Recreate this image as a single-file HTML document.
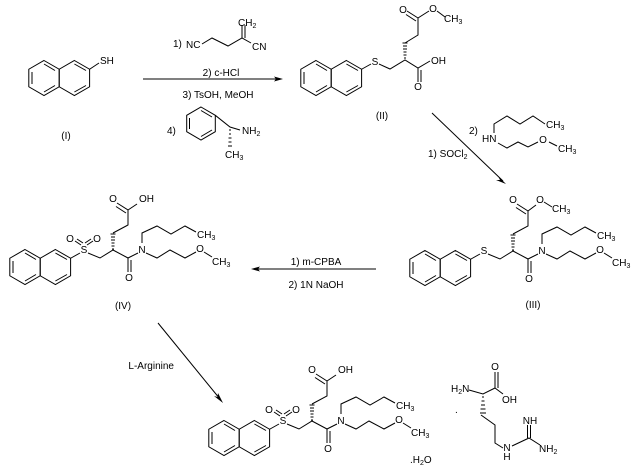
<!DOCTYPE html>
<html><head><meta charset="utf-8"><style>
html,body{margin:0;padding:0;background:#fff;}
svg{display:block;}
text{font-family:"Liberation Sans",sans-serif;font-size:10px;fill:#000;}
.s{font-size:7px;}
</style></head><body>
<svg width="635" height="471" viewBox="0 0 635 471" xmlns="http://www.w3.org/2000/svg">
<defs>
<g id="nap" fill="none" stroke="#000" stroke-width="1">
<polygon points="0,-17.5 15.2,-8.75 15.2,8.75 0,17.5 -15.2,8.75 -15.2,-8.75"/>
<polygon points="30.4,-17.5 45.6,-8.75 45.6,8.75 30.4,17.5 15.2,8.75 15.2,-8.75"/>
<line x1="-12" y1="-6" x2="-12" y2="6"/>
<line x1="0" y1="-14" x2="11" y2="-7.5"/>
<line x1="0" y1="14" x2="11" y2="7.5"/>
<line x1="30.4" y1="-14" x2="42" y2="-7.5"/>
<line x1="30.4" y1="14" x2="42" y2="7.5"/>
</g>
<g id="hash" stroke="#000" stroke-width="1">
<line x1="112" y1="249" x2="114" y2="249"/>
<line x1="111.5" y1="246" x2="114.5" y2="246"/>
<line x1="111.5" y1="243" x2="114.5" y2="243"/>
<line x1="111" y1="240" x2="115" y2="240"/>
<line x1="111" y1="237" x2="115" y2="237"/>
<line x1="110.5" y1="234" x2="115.5" y2="234"/>
</g>
<g id="core">
<use href="#nap" x="25" y="267"/>
<g fill="none" stroke="#000" stroke-width="1">
<polyline points="70.6,258.25 80,253"/>
<polyline points="88,253 100,258 113,250 128,258 138,253"/>
<line x1="128" y1="258" x2="128" y2="272"/>
<line x1="131" y1="260" x2="131" y2="272"/>
<polyline points="142,243 142,233 157,226 171,234 185,226 196,232"/>
<polyline points="146,253 157,258 170,250 185,258 196,252"/>
<polyline points="204,252 212,257"/>
<polyline points="113,233 128,225 128,210"/>
<line x1="128" y1="210" x2="117" y2="203"/>
<line x1="126" y1="213" x2="116" y2="206.5"/>
</g>
<use href="#hash"/>
<text x="129" y="281" text-anchor="middle">O</text>
<text x="142" y="253" text-anchor="middle">N</text>
<text x="197" y="238">CH<tspan class="s" dy="2">3</tspan></text>
<text x="200" y="252" text-anchor="middle">O</text>
<text x="212" y="265">CH<tspan class="s" dy="2">3</tspan></text>
<text x="113" y="202" text-anchor="middle">O</text>
</g>
<g id="acid">
<line x1="128" y1="210" x2="137" y2="204" stroke="#000"/>
<text x="139" y="202">OH</text>
</g>
<g id="so2" fill="none" stroke="#000" stroke-width="1">
<line x1="81" y1="245" x2="75" y2="241"/>
<line x1="83" y1="243" x2="77" y2="239"/>
<line x1="87" y1="245" x2="93" y2="241"/>
<line x1="85" y1="243" x2="91" y2="239"/>
</g>
</defs>

<!-- (I) -->
<use href="#nap" x="44" y="78"/>
<line x1="89.6" y1="69.25" x2="99" y2="63" stroke="#000"/>
<text x="100" y="64">SH</text>
<text x="66" y="139" text-anchor="middle">(I)</text>

<!-- arrow 1 -->
<line x1="143" y1="79" x2="280" y2="79" stroke="#000"/>
<polygon points="283,79 274,76.5 276,79 274,81.5" fill="#000"/>
<text x="173" y="47">1)</text>
<text x="186" y="48">NC</text>
<g fill="none" stroke="#000">
<polyline points="202,44 212,38 228,46 242,38 251,43"/>
<line x1="242" y1="38" x2="242" y2="25"/>
<line x1="245" y1="38" x2="245" y2="25"/>
</g>
<text x="238" y="26">CH<tspan class="s" dy="2">2</tspan></text>
<text x="252" y="50">CN</text>
<text x="221" y="76" text-anchor="middle">2) c-HCl</text>
<text x="218" y="98" text-anchor="middle">3) TsOH, MeOH</text>
<text x="167" y="134">4)</text>
<g fill="none" stroke="#000">
<polygon points="201,107 215.3,115.3 215.3,131.7 201,140 186.7,131.7 186.7,115.3"/>
<line x1="189.5" y1="118" x2="189.5" y2="129"/>
<line x1="201" y1="110.5" x2="212" y2="117"/>
<line x1="201" y1="136.5" x2="212" y2="130"/>
<polyline points="215.3,115.3 230,127 240,130"/>
</g>
<g stroke="#000"><line x1="229" y1="130" x2="231" y2="130"/><line x1="229" y1="134" x2="231" y2="134"/><line x1="228.5" y1="138" x2="231.5" y2="138"/><line x1="228.5" y1="142" x2="231.5" y2="142"/><line x1="228" y1="146" x2="232" y2="146"/></g>
<text x="242" y="134">NH<tspan class="s" dy="2">2</tspan></text>
<text x="225" y="158">CH<tspan class="s" dy="2">3</tspan></text>

<!-- (II) -->
<use href="#nap" x="316" y="78"/>
<g fill="none" stroke="#000">
<line x1="361.6" y1="69.25" x2="371" y2="64"/>
<polyline points="379,64 390,69 405,60 418,68 430,61"/>
<line x1="418" y1="68" x2="418" y2="82"/>
<line x1="421" y1="70" x2="421" y2="82"/>
<polyline points="405,43 418,35 418,18 429,11"/>
<polyline points="437,11 445,17"/>
<line x1="418" y1="18" x2="407" y2="11"/>
<line x1="416" y1="21" x2="406" y2="14.5"/>
</g>
<g stroke="#000"><line x1="404" y1="58" x2="406" y2="58"/><line x1="403.5" y1="55" x2="406.5" y2="55"/><line x1="403.5" y1="52" x2="406.5" y2="52"/><line x1="403" y1="49" x2="407" y2="49"/><line x1="403" y1="46" x2="407" y2="46"/><line x1="402.5" y1="43" x2="407.5" y2="43"/></g>
<text x="375" y="65" text-anchor="middle">S</text>
<text x="431" y="64">OH</text>
<text x="418" y="90" text-anchor="middle">O</text>
<text x="403" y="13" text-anchor="middle">O</text>
<text x="433" y="12" text-anchor="middle">O</text>
<text x="444" y="22">CH<tspan class="s" dy="2">3</tspan></text>
<text x="382" y="119" text-anchor="middle">(II)</text>

<!-- arrow 2 diagonal -->
<line x1="432" y1="113" x2="503" y2="181" stroke="#000"/>
<polygon points="506,184 498,176 500,180 496,180" fill="#000"/>
<text x="469" y="134">2)</text>
<text x="482" y="142">HN</text>
<g fill="none" stroke="#000">
<polyline points="494,133 494,124 507,116 520,124 533,116 545,124"/>
<polyline points="498,143 507,148 518,142 528,147 538,142"/>
<polyline points="549,142 557,146"/>
</g>
<text x="546" y="128">CH<tspan class="s" dy="2">3</tspan></text>
<text x="543" y="143" text-anchor="middle">O</text>
<text x="558" y="152">CH<tspan class="s" dy="2">3</tspan></text>
<text x="428" y="157">1) SOCl<tspan class="s" dy="2">2</tspan></text>

<!-- (III) -->
<g transform="translate(400,1)">
<use href="#core"/>
<line x1="128" y1="210" x2="136" y2="204" stroke="#000"/>
<text x="140" y="202" text-anchor="middle">O</text>
<line x1="144" y1="201" x2="152" y2="206" stroke="#000"/>
<text x="152" y="211">CH<tspan class="s" dy="2">3</tspan></text>
<text x="84" y="253" text-anchor="middle">S</text>
</g>
<text x="533" y="308" text-anchor="middle">(III)</text>

<!-- arrow 3 -->
<line x1="376" y1="269" x2="255" y2="269" stroke="#000"/>
<polygon points="251,269 260,266.5 258,269 260,271.5" fill="#000"/>
<text x="316" y="265" text-anchor="middle">1) m-CPBA</text>
<text x="316" y="288" text-anchor="middle">2) 1N NaOH</text>

<!-- (IV) -->
<use href="#core"/>
<use href="#acid"/>
<use href="#so2"/>
<text x="84" y="253" text-anchor="middle">S</text>
<text x="70" y="242" text-anchor="middle">O</text>
<text x="97" y="242" text-anchor="middle">O</text>
<text x="123" y="309" text-anchor="middle">(IV)</text>

<!-- arrow 4 -->
<line x1="158" y1="323" x2="220" y2="399" stroke="#000"/>
<polygon points="223,403 218,393 217.5,397 214,396" fill="#000"/>
<text x="174" y="369" text-anchor="end">L-Arginine</text>

<!-- bottom product -->
<g transform="translate(199,171)">
<use href="#core"/>
<use href="#acid"/>
<use href="#so2"/>
<text x="84" y="253" text-anchor="middle">S</text>
<text x="70" y="242" text-anchor="middle">O</text>
<text x="97" y="242" text-anchor="middle">O</text>
</g>
<text x="410" y="463">.H<tspan class="s" dy="2">2</tspan><tspan dy="-2">O</tspan></text>
<text x="455" y="413">.</text>

<!-- arginine -->
<text x="451" y="392">H<tspan class="s" dy="2">2</tspan><tspan dy="-2">N</tspan></text>
<g fill="none" stroke="#000">
<polyline points="469,390 483,394 495,388"/>
<line x1="495" y1="388" x2="495" y2="372"/>
<line x1="498" y1="388" x2="498" y2="372"/>
<line x1="495" y1="388" x2="503" y2="394"/>
<polyline points="481,415 495,425 495,443 503,448"/>
<polyline points="512,446 529,438 540,445"/>
<line x1="527.5" y1="438" x2="527.5" y2="425"/>
<line x1="530.5" y1="438" x2="530.5" y2="425"/>
</g>
<g stroke="#000"><line x1="482" y1="397" x2="484" y2="397"/><line x1="481.5" y1="401" x2="484.5" y2="401"/><line x1="481" y1="405" x2="485" y2="405"/><line x1="480.5" y1="409" x2="485.5" y2="409"/><line x1="480" y1="413" x2="486" y2="413"/></g>
<text x="495" y="370" text-anchor="middle">O</text>
<text x="502" y="403">OH</text>
<text x="507" y="451" text-anchor="middle">N</text>
<text x="507" y="460" text-anchor="middle">H</text>
<text x="530" y="424" text-anchor="middle">NH</text>
<text x="539" y="452">NH<tspan class="s" dy="2">2</tspan></text>
</svg>
</body></html>
